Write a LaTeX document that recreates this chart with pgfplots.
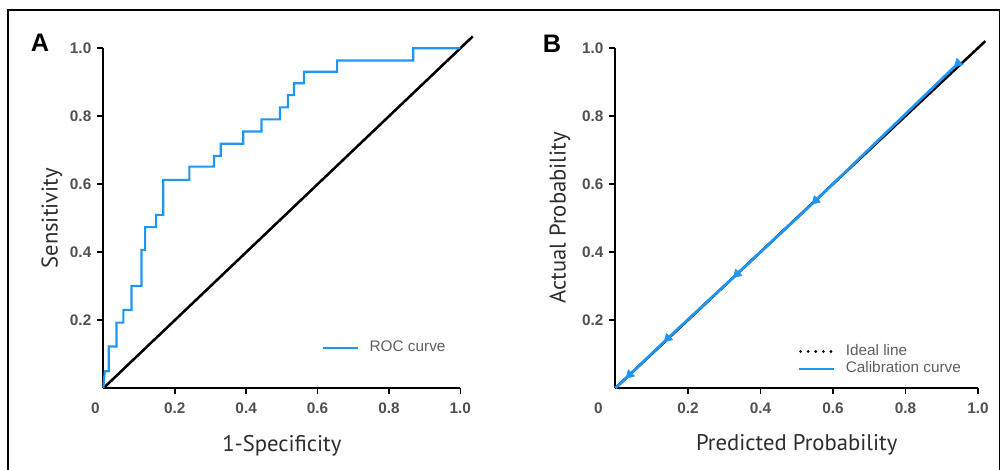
\documentclass[border=0pt]{standalone}
\usepackage{pgfplots}
\pgfplotsset{compat=1.18}
\usepackage{fontspec}
\setmainfont{Liberation Sans}
\newfontfamily\labfont{PT Sans}
\definecolor{rocblue}{RGB}{30,150,245}
\definecolor{ticktext}{RGB}{80,80,80}
\definecolor{labcol}{RGB}{45,45,45}
\definecolor{legtext}{RGB}{95,95,95}

\pgfplotsset{
  myax/.style={
    scale only axis,
    axis x line*=bottom, axis y line*=left,
    xmin=0, xmax=1, ymin=0, ymax=1,
    clip=false,
    axis line style={-, line width=1.5pt, black},
    tick align=outside,
    major tick length=4.5pt,
    tick style={line width=1.2pt, black},
    xtick={0.2,0.4,0.6,0.8,1.0},
    xticklabels={0.2,0.4,0.6,0.8,1.0},
    ytick={0.2,0.4,0.6,0.8,1.0},
    yticklabels={0.2,0.4,0.6,0.8,1.0},
    tick label style={font=\bfseries\fontsize{11.5}{13}\selectfont, text=ticktext},
    xticklabel style={yshift=-3pt},
    yticklabel style={xshift=-1pt},
    label style={font=\labfont\fontsize{17}{20}\selectfont, text=labcol},
    legend cell align=left,
    legend style={draw=none, fill=none, inner sep=0pt, outer sep=0pt,
      font=\fontsize{11.5}{13}\selectfont, text=legtext,
      nodes={inner sep=0pt, text height=9pt, text depth=3pt},
      column sep=8pt, row sep=0.75pt},
    legend image code/.code={\draw[#1] (0pt,0pt) -- (26pt,0pt);},
  }
}

\begin{document}
\begin{tikzpicture}[x=0.75pt,y=0.75pt]
\useasboundingbox (0,0) rectangle (1007,470);
\draw[line width=1.3pt] (8.3,-2) -- (8.3,460) -- (999.5,460) -- (999.5,-2);
\node[font=\bfseries\fontsize{19}{19}\selectfont] at (40,427) {A};
\node[font=\bfseries\fontsize{19}{19}\selectfont] at (552,426) {B};

% ---------- Panel A ----------
\begin{axis}[myax,
  at={(77.5pt,61.3pt)}, anchor=south west,
  width=267.75pt, height=255pt,
  xlabel={1-Specificity}, ylabel={Sensitivity},
  xlabel style={at={(axis description cs:0.5,-0.168)}, anchor=center},
  ylabel style={at={(axis description cs:-0.144,0.5)}, anchor=center},
  legend style={at={(axis cs:0.613,0.119)}, anchor=west},
]
\addplot[black, line width=1.9pt, forget plot] coordinates {(0,0) (1.035,1.035)};
\addplot[rocblue, line width=1.6pt, line join=miter] coordinates {
(0,0) (0.004,0.05) (0.015,0.05) (0.015,0.123) (0.037,0.123) (0.037,0.193)
(0.056,0.193) (0.056,0.230) (0.079,0.230) (0.079,0.301) (0.107,0.301)
(0.107,0.407) (0.117,0.407) (0.117,0.474) (0.148,0.474) (0.148,0.510)
(0.168,0.510) (0.168,0.613) (0.241,0.613) (0.241,0.652) (0.310,0.652)
(0.310,0.683) (0.329,0.683) (0.329,0.719) (0.392,0.719) (0.392,0.755)
(0.443,0.755) (0.443,0.791) (0.495,0.791) (0.495,0.826) (0.517,0.826)
(0.517,0.862) (0.534,0.862) (0.534,0.897) (0.562,0.897) (0.562,0.931)
(0.655,0.931) (0.655,0.964) (0.868,0.964) (0.868,1.0) (1.0,1.0)};
\addlegendentry{ROC curve}
\node[anchor=center, font=\bfseries\fontsize{11.5}{13}\selectfont, text=ticktext] at (axis cs:-0.022,-0.06) {0};
\end{axis}

% ---------- Panel B ----------
\begin{axis}[myax,
  at={(461.6pt,61.5pt)}, anchor=south west,
  width=271.9pt, height=255pt,
  xlabel={Predicted Probability}, ylabel={Actual Probability},
  xlabel style={at={(axis description cs:0.5,-0.168)}, anchor=center},
  ylabel style={at={(axis description cs:-0.153,0.5)}, anchor=center},
  legend style={at={(axis cs:0.503,0.081)}, anchor=west},
]
\addplot[black, line width=1.9pt,
  legend image code/.code={\draw[black, line width=2.2pt, line cap=round, dash pattern=on 0.1pt off 5.6pt] (1pt,0pt) -- (24pt,0pt);}]
  coordinates {(0,0) (1.02,1.02)};
\addlegendentry{Ideal line}
\addplot[rocblue, line width=2pt, mark=triangle*, mark size=3.8pt,
  mark indices={2,3,4,5,6}, mark options={rotate=135, fill=rocblue, draw=rocblue, line width=0.5pt}]
  coordinates {(0,0) (0.039,0.039) (0.144,0.146) (0.335,0.335) (0.552,0.551) (0.945,0.955)};
\addlegendentry{Calibration curve}
\node[anchor=center, font=\bfseries\fontsize{11.5}{13}\selectfont, text=ticktext] at (axis cs:-0.047,-0.06) {0};
\end{axis}
\end{tikzpicture}
\end{document}
